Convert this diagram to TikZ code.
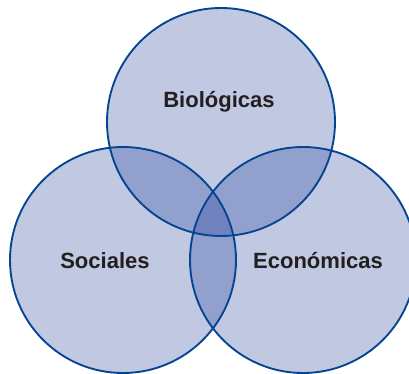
\documentclass[tikz,border=0pt]{standalone}
\usepackage{fontspec}
\setmainfont{Liberation Sans}
\usepackage{xcolor}
\usetikzlibrary{positioning, calc}
\definecolor{cRing}{RGB}{5,68,145}
\definecolor{cSet}{RGB}{22,51,147}
\definecolor{cText}{RGB}{35,31,32}
\tikzset{
	setfill/.style ={fill=cSet, fill opacity=0.27},
	ring/.style    ={draw=cRing, line width=1.6pt},
	setlabel/.style={font=\fontsize{18.8}{20}\selectfont\bfseries, text=cText, inner sep=0pt},
}
\begin{document}
\begin{tikzpicture}[x=0.03cm, y=-0.03cm]
	\useasboundingbox (0,0) rectangle (409,374);
	\coordinate (cBio) at (221,122);
	\coordinate (cSoc) at (123,260);
	\coordinate (cEco) at (303,260);
	% fills first, outlines on top
	\fill[setfill] (cBio) circle (114);
	\fill[setfill] (cSoc) circle (113);
	\fill[setfill] (cEco) circle (113);
	\draw[ring] (cBio) circle (114);
	\draw[ring] (cSoc) circle (113);
	\draw[ring] (cEco) circle (113);
	\node[setlabel] (bio) at (219,102) {Biológicas};
	\node[setlabel] (soc) at (105,261) {Sociales};
	\node[setlabel] (eco) at (318,261) {Económicas};
\end{tikzpicture}
\end{document}
